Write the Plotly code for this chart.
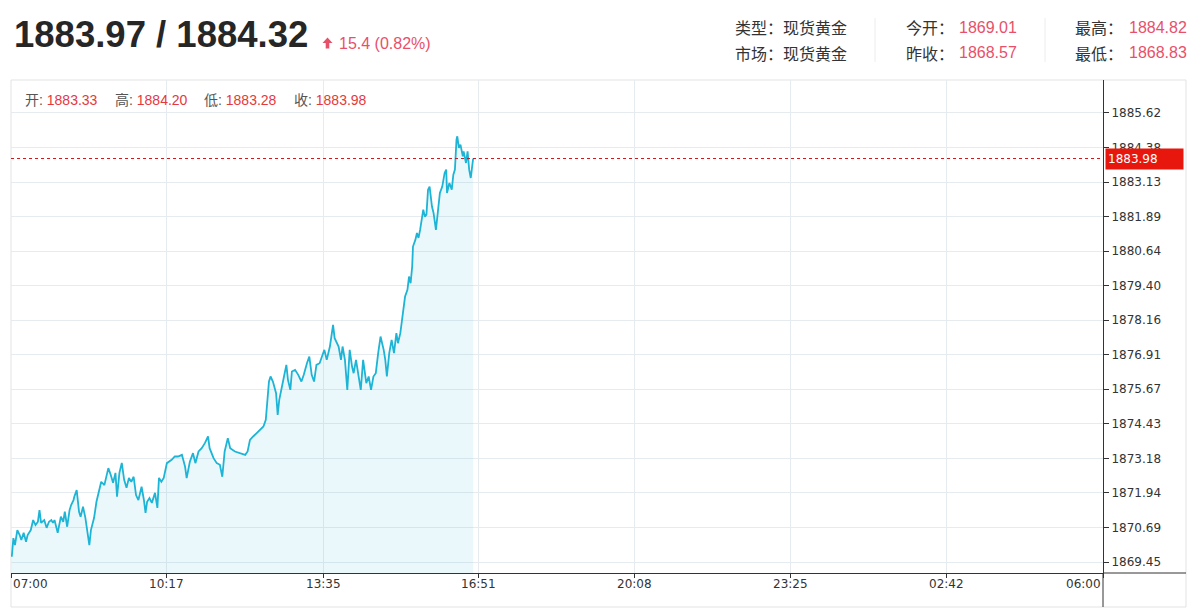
import plotly.graph_objects as go

# ---------------- data ----------------
minutes = [
    1, 3, 5, 8, 11, 13, 16, 19, 21, 25,
    28, 31, 34, 36, 38, 42, 45, 48, 51, 53,
    55, 59, 63, 66, 68, 71, 74, 76, 79, 80,
    83, 86, 88, 91, 94, 96, 99, 101, 105, 108,
    111, 114, 118, 120, 123, 126, 129, 132, 134, 137,
    140, 143, 146, 149, 152, 155, 158, 161, 165, 168,
    170, 172, 175, 178, 182, 185, 187, 190, 193, 197,
    203, 207, 211, 216, 220, 222, 226, 230, 233, 237,
    241, 245, 249, 251, 256, 260, 264, 267, 270, 274,
    277, 283, 289, 296, 299, 302, 306, 310, 315, 319,
    322, 324, 326, 328, 331, 335, 337, 339, 342, 345,
    348, 350, 353, 355, 359, 363, 367, 370, 374, 377,
    380, 383, 386, 390, 393, 396, 399, 403, 407, 409,
    414, 417, 419, 422, 425, 428, 431, 433, 436, 439,
    442, 445, 449, 452, 455, 458, 461, 464, 467, 471,
    473, 475, 478, 481, 484, 487, 489, 492, 494, 496,
    498, 501, 503, 505, 507, 508, 511, 513, 515, 517,
    519, 521, 523, 525, 527, 529, 532, 534, 537, 540,
    542, 545, 548, 550, 551, 554, 557, 559, 561, 563,
    564, 566, 568, 571, 572, 575, 577, 579, 581, 584,
]
prices = [
    1869.64, 1870.31, 1870.06, 1870.60, 1870.42, 1870.24, 1870.50, 1870.18, 1870.42, 1870.60,
    1870.96, 1870.78, 1870.90, 1871.32, 1870.86, 1870.96, 1870.68, 1870.90, 1870.96, 1870.86,
    1870.96, 1870.50, 1871.08, 1870.90, 1871.26, 1870.72, 1871.32, 1871.50, 1871.68, 1871.80,
    1872.04, 1871.26, 1871.08, 1871.44, 1871.04, 1870.60, 1870.06, 1870.60, 1871.04, 1871.62,
    1871.98, 1872.34, 1872.22, 1872.52, 1872.83, 1872.59, 1872.30, 1872.66, 1871.80, 1872.66,
    1873.02, 1872.41, 1872.12, 1872.48, 1872.34, 1872.52, 1871.86, 1871.68, 1872.16, 1871.68,
    1871.22, 1871.62, 1871.75, 1871.58, 1871.94, 1871.40, 1872.48, 1872.34, 1872.48, 1873.01,
    1873.13, 1873.25, 1873.25, 1873.31, 1872.88, 1872.47, 1873.06, 1873.37, 1873.01, 1873.43,
    1873.55, 1873.73, 1873.97, 1873.55, 1873.19, 1873.01, 1872.95, 1872.52, 1873.43, 1873.91,
    1873.55, 1873.43, 1873.37, 1873.31, 1873.43, 1873.85, 1873.97, 1874.09, 1874.21, 1874.33,
    1874.57, 1875.41, 1875.95, 1876.13, 1875.95, 1875.53, 1874.75, 1875.29, 1875.77, 1876.13,
    1876.55, 1876.01, 1875.65, 1876.31, 1876.37, 1876.19, 1875.95, 1876.19, 1876.61, 1876.85,
    1876.19, 1875.95, 1876.55, 1876.61, 1876.85, 1877.09, 1876.73, 1877.21, 1877.99, 1877.51,
    1877.21, 1876.73, 1877.21, 1876.73, 1875.65, 1877.09, 1876.49, 1876.25, 1876.73, 1876.13,
    1875.65, 1876.73, 1875.89, 1876.13, 1875.65, 1876.13, 1876.25, 1876.97, 1877.57, 1877.09,
    1876.73, 1876.13, 1876.97, 1877.45, 1876.97, 1877.69, 1877.33, 1877.69, 1878.17, 1878.65,
    1879.01, 1879.25, 1879.73, 1879.49, 1880.09, 1880.81, 1881.05, 1881.30, 1881.12, 1881.41,
    1881.77, 1882.14, 1881.89, 1881.96, 1882.86, 1882.97, 1882.25, 1882.02, 1881.41, 1882.14,
    1882.74, 1882.97, 1883.46, 1883.58, 1882.74, 1883.10, 1882.86, 1883.40, 1883.58, 1884.66,
    1884.78, 1884.36, 1884.48, 1884.06, 1884.24, 1883.82, 1884.24, 1883.58, 1883.28, 1883.98,
]

x_tick_minutes = [0, 197, 395, 591, 788, 985, 1182, 1380]
x_tick_labels = ["07:00", "10:17", "13:35", "16:51", "20:08", "23:25", "02:42", "06:00"]
y_tick_values = [1869.45, 1870.69, 1871.94, 1873.18, 1874.43, 1875.67, 1876.91,
                 1878.16, 1879.40, 1880.64, 1881.89, 1883.13, 1884.38, 1885.62]
x_range = [0, 1380]
y_range = [1869.054, 1886.808]

bid, ask = 1883.97, 1884.32
change, change_pct = 15.4, 0.82
info_left_labels = ["类型：", "市场："]
info_left_values = ["现货黄金", "现货黄金"]
info_mid_labels = ["今开：", "昨收："]
info_mid_values = [1869.01, 1868.57]
info_right_labels = ["最高：", "最低："]
info_right_values = [1884.82, 1868.83]
ohlc_labels = ["开", "高", "低", "收"]
ohlc_values = [1883.33, 1884.20, 1883.28, 1883.98]
last_price = 1883.98

# ---------------- layout helpers ----------------
# page body has an 8px margin, so the figure starts at screen (8, 8)
OFF = 8
W, H = 1195 - OFF, 615 - OFF
# plot area in screen pixels
L, R, T, B = 11, 1103, 80, 573


def px(x):
    return (x - L) / (R - L)


def py(y):
    return (B - y) / (B - T)


LINE = "#1db4d5"
RED_SOFT = "#e8506a"
RED = "#e4393c"
GRID = "#e6ebef"
DARK = "#333333"
SANS = "Liberation Sans, Arial, Noto Sans CJK SC, sans-serif"
CJK = "Noto Sans CJK SC, Liberation Sans, sans-serif"
TICKF = "DejaVu Sans, Verdana, sans-serif"

fig = go.Figure()
fig.add_trace(go.Scatter(
    x=minutes, y=prices, mode="lines",
    line=dict(color=LINE, width=1.8),
    fill="tozeroy", fillcolor="rgba(29,180,213,0.09)",
    hoverinfo="skip", showlegend=False,
))

shapes = []
# outer chart frame
shapes.append(dict(type="rect", xref="paper", yref="paper", x0=0, x1=px(1186),
                   y0=py(607), y1=1, line=dict(color="#e3e3e3", width=1), layer="below"))
# y axis line extension to bottom of frame
shapes.append(dict(type="line", xref="paper", yref="paper", x0=1, x1=1, y0=0, y1=py(607),
                   line=dict(color=DARK, width=1)))
# x axis line extension to right side
shapes.append(dict(type="line", xref="paper", yref="paper", x0=1, x1=px(1186), y0=0, y1=0,
                   line=dict(color=DARK, width=1)))
# last price dashed line
shapes.append(dict(type="line", xref="paper", yref="y", x0=0, x1=1, y0=last_price, y1=last_price,
                   line=dict(color="#d0161c", width=1, dash="dot")))
# header separators
for sx in (875, 1045):
    shapes.append(dict(type="line", xref="paper", yref="paper", x0=px(sx), x1=px(sx),
                       y0=py(62), y1=py(18), line=dict(color="#ececec", width=1)))
# up arrow
arrow_pts = [(327.5, 37.5), (322.5, 43), (325.7, 43), (325.7, 48.5),
             (329.3, 48.5), (329.3, 43), (332.5, 43)]
path = "M " + " L ".join(f"{px(a):.5f},{py(b):.5f}" for a, b in arrow_pts) + " Z"
shapes.append(dict(type="path", xref="paper", yref="paper", path=path,
                   fillcolor=RED_SOFT, line=dict(width=0)))

ann = []
ann.append(dict(text=f"<b>{bid:.2f} / {ask:.2f}</b>", x=px(12), y=py(35), xref="paper", yref="paper",
                xanchor="left", yanchor="middle", showarrow=False,
                font=dict(family=SANS, size=36.5, color="#262626")))
ann.append(dict(text=f"{change} ({change_pct:.2f}%)", x=px(337), y=py(44), xref="paper", yref="paper",
                xanchor="left", yanchor="middle", showarrow=False,
                font=dict(family=SANS, size=16, color=RED_SOFT)))
for i, ry in enumerate((27, 53)):
    ann.append(dict(text=info_left_labels[i] + info_left_values[i], x=px(733), y=py(ry),
                    xref="paper", yref="paper", xanchor="left", yanchor="middle", showarrow=False,
                    font=dict(family=CJK, size=16, color=DARK)))
    ann.append(dict(text=info_mid_labels[i], x=px(904), y=py(ry),
                    xref="paper", yref="paper", xanchor="left", yanchor="middle", showarrow=False,
                    font=dict(family=CJK, size=16, color=DARK)))
    ann.append(dict(text=f"{info_mid_values[i]:.2f}", x=px(957), y=py(ry),
                    xref="paper", yref="paper", xanchor="left", yanchor="middle", showarrow=False,
                    font=dict(family=SANS, size=16, color=RED_SOFT)))
    ann.append(dict(text=info_right_labels[i], x=px(1073), y=py(ry),
                    xref="paper", yref="paper", xanchor="left", yanchor="middle", showarrow=False,
                    font=dict(family=CJK, size=16, color=DARK)))
    ann.append(dict(text=f"{info_right_values[i]:.2f}", x=px(1127), y=py(ry),
                    xref="paper", yref="paper", xanchor="left", yanchor="middle", showarrow=False,
                    font=dict(family=SANS, size=16, color=RED_SOFT)))

for lab, val, ox in zip(ohlc_labels, ohlc_values, (23, 113, 202, 292)):
    ann.append(dict(text=f"<span style='color:#555'>{lab}:</span> <span style='color:{RED}'>{val:.2f}</span>",
                    x=px(ox), y=py(100), xref="paper", yref="paper", xanchor="left", yanchor="middle",
                    showarrow=False, font=dict(family=SANS, size=14, color=RED)))

for i, (tv, tl) in enumerate(zip(x_tick_minutes, x_tick_labels)):
    anchor = "left" if i == 0 else ("right" if i == len(x_tick_minutes) - 1 else "center")
    ann.append(dict(text=tl, x=tv, y=py(584), xref="x", yref="paper", xanchor=anchor, yanchor="middle",
                    showarrow=False, font=dict(family=TICKF, size=12, color=DARK)))

ann.append(dict(text=f"{last_price:.2f}", x=1, xshift=2, y=last_price, xref="paper", yref="y",
                xanchor="left", yanchor="middle", showarrow=False, align="left",
                bgcolor="#e8170d", width=73, height=16, borderpad=2,
                font=dict(family=TICKF, size=12, color="white")))

fig.update_layout(
    width=W, height=H,
    margin=dict(l=L - OFF, r=W - (R - OFF), t=T - OFF, b=H - (B - OFF), pad=0),
    paper_bgcolor="white", plot_bgcolor="white",
    showlegend=False,
    shapes=shapes, annotations=ann,
    xaxis=dict(range=x_range, tickvals=x_tick_minutes, showticklabels=False,
               ticks="outside", ticklen=4, tickcolor=DARK, showline=True, linecolor=DARK,
               linewidth=1, showgrid=True, gridcolor=GRID, gridwidth=1, zeroline=False,
               fixedrange=True),
    yaxis=dict(range=y_range, side="right", tickvals=y_tick_values,
               ticktext=[f"{v:.2f}" for v in y_tick_values],
               ticks="outside", ticklen=5, tickcolor=DARK, showline=True, linecolor=DARK,
               linewidth=1, showgrid=True, gridcolor=GRID, gridwidth=1, zeroline=False,
               tickfont=dict(family=TICKF, size=12, color=DARK), fixedrange=True),
)

fig.write_html("out.html")
